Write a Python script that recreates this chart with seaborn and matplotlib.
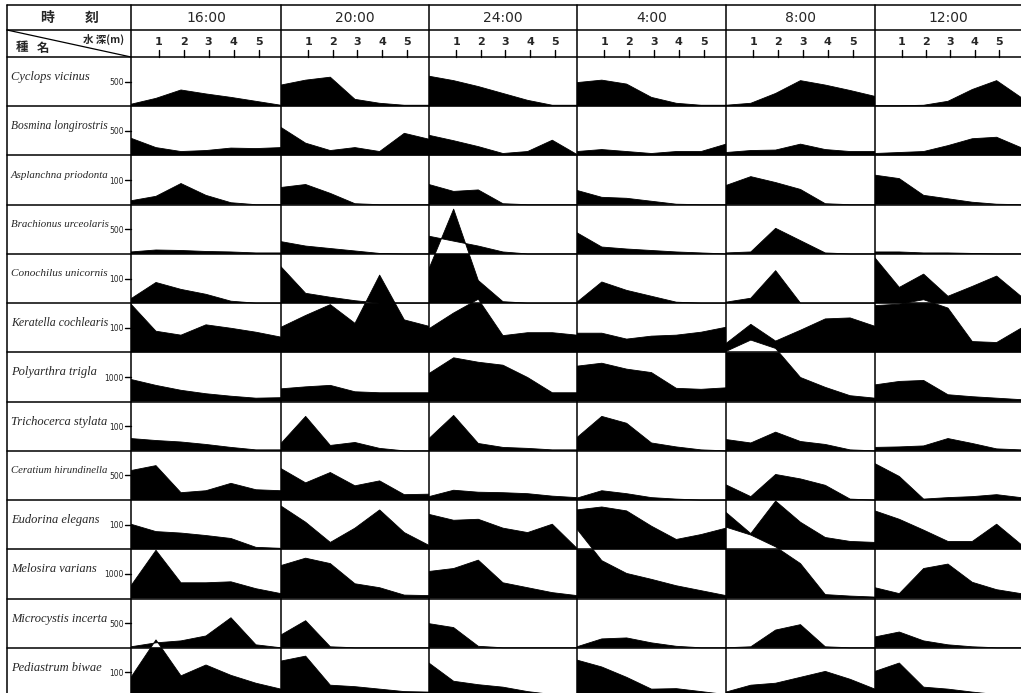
"""
    diel vertical distribution of plankton, 13 species x 6 times
"""

import numpy as np
import pandas as pd
import matplotlib.pyplot as plt
from matplotlib.path import Path
from matplotlib.patches import PathPatch
import seaborn as sns

times = ["16:00", "20:00", "24:00", "4:00", "8:00", "12:00"]
depths = [0, 1, 2, 3, 4, 5, 6]
depth_ticks = [1, 2, 3, 4, 5]

species = [
    "Cyclops vicinus", "Bosmina longirostris", "Asplanchna priodonta",
    "Brachionus urceolaris", "Conochilus unicornis", "Keratella cochlearis",
    "Polyarthra trigla", "Trichocerca stylata", "Ceratium hirundinella",
    "Eudorina elegans", "Melosira varians", "Microcystis incerta",
    "Pediastrum biwae",
]
scales = [500, 500, 100, 500, 100, 100, 1000, 100, 500, 100, 1000, 500, 100]

# counts per depth (0..6 m), one list per time column
cyclops = [
    [40, 160, 330, 250, 180, 100, 20],
    [430, 530, 590, 140, 60, 20, 20],
    [610, 520, 400, 260, 120, 20, 20],
    [480, 530, 450, 180, 60, 20, 20],
    [20, 60, 260, 520, 430, 320, 200],
    [10, 10, 20, 100, 340, 520, 180],
]
bosmina = [
    [350, 160, 80, 100, 150, 140, 160],
    [570, 250, 100, 160, 80, 450, 330],
    [410, 300, 180, 40, 80, 310, 20],
    [80, 120, 80, 40, 80, 80, 230],
    [60, 100, 110, 230, 120, 80, 80],
    [40, 60, 80, 200, 340, 370, 160],
]
asplanchna = [
    [16, 34, 86, 38, 8, 0, 0],
    [70, 82, 46, 4, 0, 0, 0],
    [82, 54, 60, 4, 0, 0, 0],
    [58, 30, 26, 14, 2, 0, 0],
    [78, 114, 90, 62, 4, 0, 0],
    [120, 106, 38, 24, 10, 2, 0],
]
brachionus = [
    [40, 80, 70, 50, 40, 20, 20],
    [250, 160, 110, 60, 10, 0, 0],
    [360, 260, 160, 40, 0, 0, 0],
    [430, 140, 100, 70, 40, 20, 0],
    [20, 40, 520, 270, 20, 0, 0],
    [40, 40, 20, 20, 10, 0, 0],
]
conochilus = [
    [18, 84, 56, 36, 8, 0, 0],
    [148, 40, 24, 10, 0, 0, 0],
    [140, 382, 92, 6, 0, 0, 0],
    [4, 86, 52, 28, 4, 0, 0],
    [4, 20, 132, 0, 0, 0, 0],
    [184, 64, 118, 28, 68, 110, 28],
]
keratella = [
    [196, 86, 70, 112, 98, 82, 62],
    [102, 150, 194, 118, 314, 132, 106],
    [96, 160, 216, 68, 80, 80, 70],
    [78, 78, 54, 66, 70, 82, 102],
    [36, 114, 46, 90, 136, 140, 106],
    [190, 196, 214, 180, 44, 40, 98],
]
polyarthra = [
    [900, 660, 460, 320, 220, 140, 160],
    [520, 600, 660, 400, 360, 360, 360],
    [1140, 1780, 1600, 1480, 980, 360, 360],
    [1440, 1560, 1320, 1180, 540, 500, 560],
    [2040, 2500, 2160, 980, 580, 240, 140],
    [680, 820, 860, 280, 200, 140, 80],
]
trichocerca = [
    [50, 42, 36, 26, 14, 4, 4],
    [30, 140, 22, 34, 10, 0, 0],
    [50, 144, 30, 14, 10, 4, 4],
    [54, 140, 112, 32, 16, 4, 0],
    [46, 32, 76, 38, 26, 4, 0],
    [14, 16, 20, 50, 30, 8, 4],
]
ceratium = [
    [600, 700, 150, 190, 340, 210, 190],
    [640, 350, 560, 290, 390, 110, 120],
    [70, 200, 160, 150, 130, 80, 50],
    [40, 190, 130, 50, 20, 0, 0],
    [310, 70, 520, 430, 300, 20, 0],
    [740, 480, 20, 50, 70, 110, 50],
]
eudorina = [
    [102, 72, 66, 56, 44, 8, 4],
    [176, 110, 28, 86, 160, 68, 16],
    [142, 118, 122, 86, 68, 102, 4],
    [160, 172, 156, 94, 40, 60, 86],
    [150, 64, 196, 110, 48, 32, 28],
    [156, 122, 78, 32, 32, 102, 20],
]
melosira = [
    [520, 1960, 640, 640, 680, 400, 200],
    [1340, 1640, 1420, 600, 440, 140, 120],
    [1100, 1220, 1560, 640, 440, 240, 120],
    [2820, 1540, 1020, 780, 520, 320, 120],
    [2900, 2580, 2100, 1420, 160, 100, 60],
    [440, 200, 1220, 1400, 660, 360, 200],
]
microcystis = [
    [20, 100, 140, 240, 610, 60, 0],
    [260, 550, 20, 0, 0, 0, 0],
    [490, 410, 30, 0, 0, 0, 0],
    [20, 180, 200, 100, 30, 0, 0],
    [0, 20, 360, 470, 20, 0, 0],
    [220, 320, 140, 60, 20, 0, 0],
]
pediastrum = [
    [80, 232, 86, 130, 88, 56, 32],
    [146, 166, 48, 42, 32, 22, 20],
    [138, 64, 50, 40, 22, 10, 0],
    [150, 122, 80, 32, 34, 22, 10],
    [20, 48, 56, 80, 104, 72, 32],
    [104, 138, 40, 32, 20, 10, 6],
]

counts = [cyclops, bosmina, asplanchna, brachionus, conochilus, keratella,
          polyarthra, trichocerca, ceratium, eudorina, melosira, microcystis,
          pediastrum]

# long table, height in row units (scale mark = half a row)
recs = []
n_rows = len(species)
for r, (name, sc, table) in enumerate(zip(species, scales, counts)):
    for t, vals in enumerate(table):
        for d, v in zip(depths, vals):
            recs.append({"time": times[t], "species": name, "depth": d,
                         "y": (n_rows - 1 - r) + v / (2.0 * sc)})
df = pd.DataFrame(recs)

sns.set_style("white")
plt.rcParams["font.family"] = ["DejaVu Sans", "Noto Sans CJK JP"]

W, H = 1021, 693
left_edge = 7
col_edges = [131, 281, 429, 577, 726, 875, 1021]
top_line, mid_line, head_bottom = 5, 30, 57
table_bottom = 697
row_h = (table_bottom - head_bottom) / n_rows

fig = plt.figure(figsize=(W / 100, H / 100), dpi=100)
renderer = fig.canvas.get_renderer()

# frame axes in pixel units for the table rules and text
fr = fig.add_axes([0, 0, 1, 1])
fr.set_xlim(0, W)
fr.set_ylim(H, 0)
fr.axis("off")

lw = 1.1
for yy in [top_line, mid_line, head_bottom]:
    fr.plot([left_edge, W], [yy, yy], color="black", lw=lw)
for k in range(1, n_rows):
    yy = head_bottom + k * row_h
    fr.plot([left_edge, W], [yy, yy], color="black", lw=lw)
for xx in [left_edge] + col_edges[:-1]:
    fr.plot([xx, xx], [top_line, H], color="black", lw=lw)

# top-left header cell
cjk = ["Noto Sans CJK JP", "DejaVu Sans"]
fr.text(47, 18, "時", ha="center", va="center", fontsize=10, fontweight="bold", family=cjk)
fr.text(92, 18, "刻", ha="center", va="center", fontsize=10, fontweight="bold", family=cjk)
fr.plot([left_edge, col_edges[0]], [mid_line, head_bottom], color="black", lw=0.9)
fr.text(22, 48, "種", ha="center", va="center", fontsize=9, fontweight="bold", family=cjk)
fr.text(43, 48, "名", ha="center", va="center", fontsize=9, fontweight="bold", family=cjk)
fr.text(104, 39, "水 深(m)", ha="center", va="center", fontsize=7.5, fontweight="bold", family=cjk)

# time and depth headers
for c, t in enumerate(times):
    x0, x1 = col_edges[c], col_edges[c + 1]
    fr.text((x0 + x1) / 2, 18, t, ha="center", va="center", fontsize=10)
    for d in depth_ticks:
        xx = x0 + (d + 0.1) * (x1 - x0) / 6
        fr.text(xx, 42, str(d), ha="center", va="center", fontsize=8, fontweight="bold")
        fr.plot([xx, xx], [50, head_bottom], color="black", lw=1.0)

# species names (shrunk to fit the label cell) and scale marks
for r, (name, sc) in enumerate(zip(species, scales)):
    y_top = head_bottom + r * row_h
    txt = fr.text(11, y_top + 20, name, ha="left", va="center", fontsize=9,
                  style="italic", family="Liberation Serif")
    w = txt.get_window_extent(renderer).width
    if w > 97:
        txt.set_fontsize(9 * 97 / w)
    fr.text(124, y_top + row_h / 2 + 1, str(sc), ha="right", va="center", fontsize=5.5)
    fr.plot([125, col_edges[0]], [y_top + row_h / 2] * 2, color="black", lw=1.0)

# data columns
for c, t in enumerate(times):
    x0, x1 = col_edges[c], col_edges[c + 1]
    ax = fig.add_axes([x0 / W, 1 - table_bottom / H, (x1 - x0) / W,
                       (table_bottom - head_bottom) / H])
    sub = df[df["time"] == t]
    paths = []
    for r, name in enumerate(species):
        s = sub[sub["species"] == name].sort_values("depth")
        base = n_rows - 1 - r
        xs = s["depth"].to_numpy(dtype=float)
        ys = s["y"].to_numpy(dtype=float)
        verts = [(xs[0], base)] + list(zip(xs, ys)) + [(xs[-1], base)]
        if r % 2:
            verts = verts[::-1]
        verts.append(verts[0])
        codes = [Path.MOVETO] + [Path.LINETO] * (len(verts) - 2) + [Path.CLOSEPOLY]
        paths.append(Path(verts, codes))
    # alternate winding so overlaps of neighbouring rows cancel out
    compound = Path.make_compound_path(*paths)
    ax.add_patch(PathPatch(compound, facecolor="black", edgecolor="none", lw=0))
    sns.lineplot(data=sub, x="depth", y="y", units="species", estimator=None,
                 color="black", linewidth=0.6, ax=ax, legend=False)
    ax.set_xlim(0, 6)
    ax.set_ylim(0, n_rows)
    ax.axis("off")

fig.savefig("out.png", dpi=100)
